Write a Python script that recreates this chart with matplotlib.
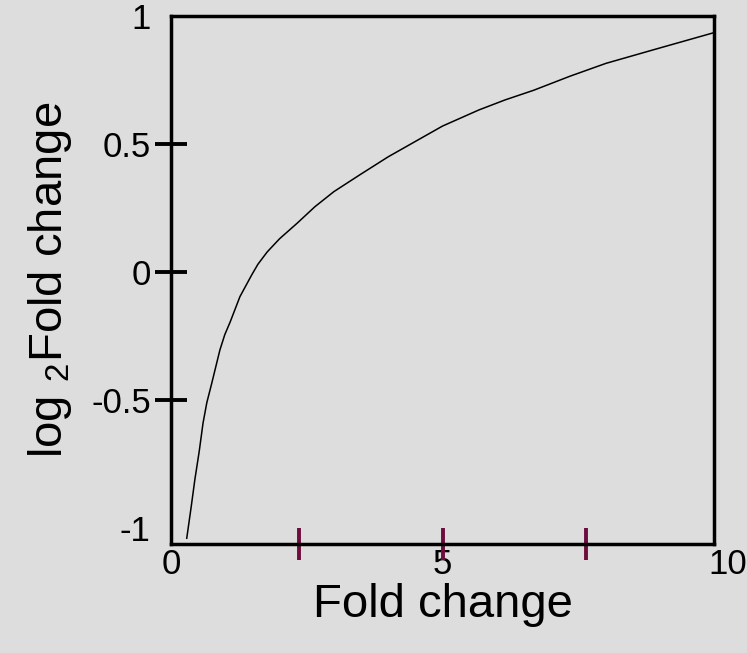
import matplotlib
matplotlib.use("Agg")
import matplotlib.pyplot as plt
from matplotlib.ticker import FixedLocator
from matplotlib.transforms import ScaledTranslation

plt.rcParams['font.family'] = ['Liberation Sans', 'DejaVu Sans']
plt.rcParams['mathtext.fontset'] = 'custom'
plt.rcParams['mathtext.rm'] = 'Liberation Sans'

# curve
fold = [0.29, 0.37, 0.44, 0.52, 0.59, 0.66, 0.75, 0.90, 0.99, 1.09, 1.27, 1.49,
        1.60, 1.77, 2.00, 2.32, 2.65, 3.00, 3.48, 4.00, 4.50, 5.00, 5.67, 6.15,
        6.68, 7.35, 8.01, 9.00, 10.0]
log_fold = [-1.04, -0.92, -0.81, -0.70, -0.59, -0.51, -0.435, -0.305, -0.245, -0.195, -0.096, -0.01,
            0.03, 0.078, 0.13, 0.19, 0.255, 0.314, 0.38, 0.45, 0.51, 0.57, 0.633, 0.672,
            0.71, 0.765, 0.815, 0.875, 0.935]

# maroon marks on the x axis
marks = [2.36, 5.0, 7.65]

x_ticks = [0, 5, 10]
y_ticks = [-1, -0.5, 0, 0.5, 1]
y_labels = ['-1', '-0.5', '0', '0.5', '1']

bg = '#dddddd'
maroon = '#6e0c3e'

fig = plt.figure(figsize=(7.47, 6.53), dpi=100, facecolor=bg)
ax = fig.add_axes([171 / 747, 1 - 544 / 653, (714 - 171) / 747, (544 - 16) / 653])
ax.set_facecolor(bg)

ax.plot(fold, log_fold, color='black', linewidth=1.1)

ax.set_xlim(0, 10)
ax.set_ylim(-1.0625, 1)

for s in ax.spines.values():
    s.set_linewidth(2.5)
    s.set_color('black')

ax.set_xticks(x_ticks)
ax.set_xticklabels([str(v) for v in x_ticks])
ax.xaxis.remove_overlapping_locs = False
ax.xaxis.set_minor_locator(FixedLocator(marks))
ax.tick_params(axis='x', which='major', length=0, pad=3, labelsize=25)
ax.tick_params(axis='x', which='minor', direction='inout', length=23,
               width=2.8, color=maroon)
lab10 = ax.get_xticklabels()[-1]
lab10.set_transform(lab10.get_transform() + ScaledTranslation(0.14, 0, fig.dpi_scale_trans))

ax.set_yticks(y_ticks)
ax.set_yticklabels(y_labels)
ax.tick_params(axis='y', direction='inout', length=23, width=2.8,
               color='black', labelsize=25, pad=3)
yt = ax.yaxis.get_major_ticks()
yt[0].tick1line.set_visible(False)
yt[-1].tick1line.set_visible(False)

ax.set_xlabel('Fold change', fontsize=34, labelpad=1)
ax.set_ylabel(r'log $\mathregular{_2}$Fold change', fontsize=34, labelpad=12)

fig.savefig('out.png', dpi=100, facecolor=bg)
